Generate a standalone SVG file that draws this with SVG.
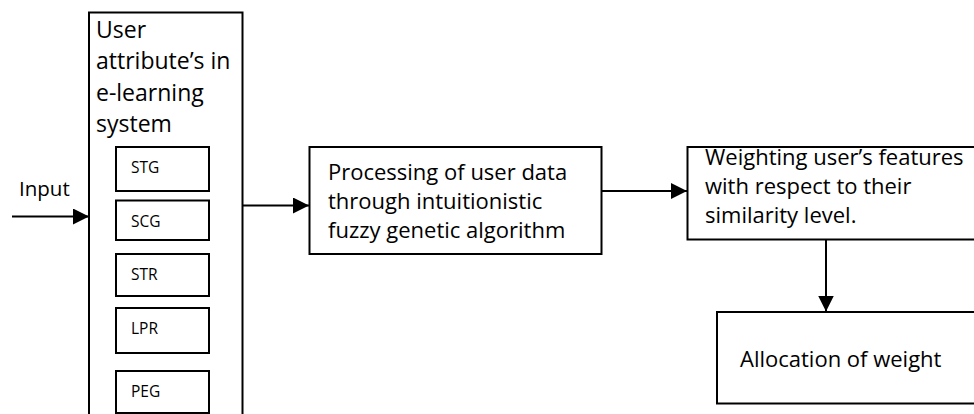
<svg xmlns="http://www.w3.org/2000/svg" width="974" height="414" viewBox="0 0 974 414">
<defs>
<marker id="arr" markerUnits="userSpaceOnUse" markerWidth="16" markerHeight="16" viewBox="0 0 14 14" refX="14" refY="7" orient="auto">
<path d="M0,0 L14,7 L0,14 Z" fill="#000"/>
</marker>
<style>
.box{fill:#fff;stroke:#000;stroke-width:2}
.t{font-family:"Open Sans","Noto Sans",sans-serif;font-size:22px;fill:#000}
.h{font-size:23px}
.s{font-family:"Open Sans","Noto Sans",sans-serif;font-size:15.5px;fill:#000}
.c{stroke:#000;stroke-width:2;fill:none;marker-end:url(#arr)}
</style>
</defs>
<rect width="974" height="414" fill="#fff"/>
<g id="attributes">
<rect class="box" x="89" y="12.5" width="153.5" height="420"/>
<text class="t h" x="96" y="37.5">User</text>
<text class="t h" x="96" y="69">attribute’s in</text>
<text class="t h" x="96" y="100.5">e-learning</text>
<text class="t h" x="96" y="132">system</text>
</g>
<g id="stg"><rect class="box" x="116" y="147" width="93" height="44"/><text class="s" x="131" y="173">STG</text></g>
<g id="scg"><rect class="box" x="116" y="200.5" width="93" height="39.5"/><text class="s" x="131" y="227">SCG</text></g>
<g id="str"><rect class="box" x="116" y="254" width="93" height="42"/><text class="s" x="131" y="280">STR</text></g>
<g id="lpr"><rect class="box" x="116" y="308" width="93" height="45"/><text class="s" x="131" y="334">LPR</text></g>
<g id="peg"><rect class="box" x="116" y="371" width="93" height="42"/><text class="s" x="131" y="397">PEG</text></g>
<g id="input"><text class="t" x="19" y="196" style="font-size:20.5px">Input</text></g>
<g id="processing">
<rect class="box" x="309.5" y="147" width="292" height="107"/>
<text class="t" x="328" y="180">Processing of user data</text>
<text class="t" x="328" y="209">through intuitionistic</text>
<text class="t" x="328" y="238">fuzzy genetic algorithm</text>
</g>
<g id="weighting">
<rect class="box" x="687.5" y="147" width="300" height="92.5"/>
<text class="t" x="705" y="164.5">Weighting user’s features</text>
<text class="t" x="705" y="193.5">with respect to their</text>
<text class="t" x="705" y="222.5">similarity level.</text>
</g>
<g id="allocation">
<rect class="box" x="717" y="312" width="270" height="91.5"/>
<text class="t" x="740" y="367">Allocation of weight</text>
</g>
<g id="connectors">
<line class="c" x1="12" y1="216.5" x2="89" y2="216.5"/>
<line class="c" x1="242.5" y1="205.5" x2="309" y2="205.5"/>
<line class="c" x1="601.5" y1="191" x2="687" y2="191"/>
<line class="c" x1="826" y1="239.5" x2="826" y2="311.5"/>
</g>
</svg>
